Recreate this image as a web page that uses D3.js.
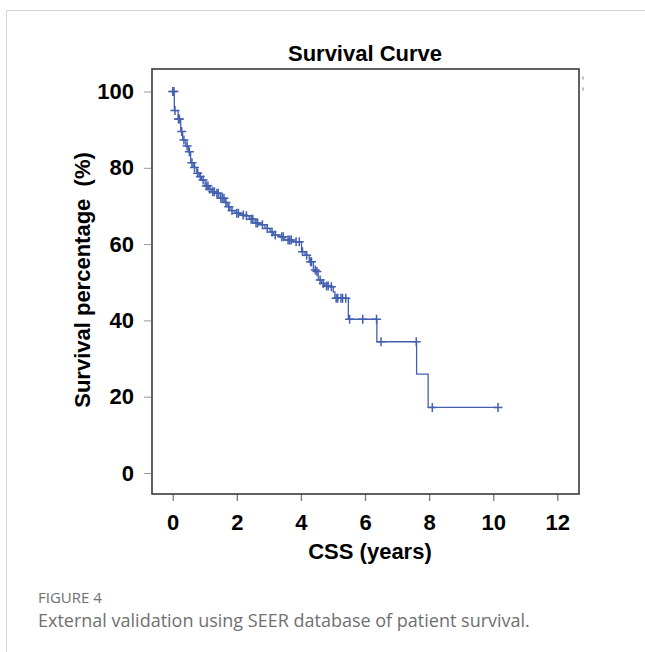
<!DOCTYPE html>
<html>
<head>
<meta charset="utf-8">
<script src="https://cdn.jsdelivr.net/npm/d3@7"></script>
<style>
  body { margin: 0; background: #fff; }
  svg { display: block; }
</style>
</head>
<body>
<div id="vis"></div>
<script>
// step events: time (years) at which survival drops to the given value (%)
var eventTimes = [0.05, 0.17, 0.25, 0.31, 0.41, 0.49, 0.56, 0.64, 0.75, 0.83, 0.90, 1.01, 1.11, 1.22, 1.35,
    1.48, 1.63, 1.70, 1.79, 1.94, 2.10, 2.26, 2.39, 2.57, 2.73, 2.88, 3.04, 3.14, 3.35, 3.50, 3.76,
    4.02, 4.13, 4.26, 4.39, 4.47, 4.54, 4.65, 4.75, 4.91, 5.01, 5.06, 5.48, 6.37, 7.61, 7.97];
var survival = [95.0, 92.8, 89.5, 87.3, 85.7, 84.2, 81.3, 80.1, 78.6, 77.7, 76.8, 75.2, 74.4, 73.7, 73.3,
    72.0, 70.9, 69.8, 68.8, 68.1, 67.6, 67.4, 66.5, 65.5, 65.1, 64.1, 63.2, 62.4, 61.9, 61.1, 60.6,
    58.0, 57.1, 55.4, 53.2, 52.8, 50.6, 49.7, 49.0, 48.8, 47.5, 45.8, 40.3, 34.4, 25.9, 17.2];
var lastTime = 10.18;
// censored observations
var censorTimes = [0, 0.04, 0.07, 0.18, 0.21, 0.28, 0.35, 0.45, 0.52, 0.6, 0.68, 0.78, 0.86, 0.95, 1.05,
    1.1, 1.16, 1.25, 1.3, 1.38, 1.42, 1.5, 1.55, 1.6, 1.66, 1.75, 1.85, 2.0, 2.05, 2.2, 2.3, 2.45, 2.5,
    2.6, 2.65, 2.8, 2.95, 3.1, 3.2, 3.4, 3.45, 3.6, 3.65, 3.7, 3.85, 3.95, 4.05, 4.18, 4.3, 4.33, 4.45,
    4.5, 4.6, 4.7, 4.8, 4.85, 4.95, 5.1, 5.15, 5.25, 5.3, 5.4, 5.52, 5.93, 6.36, 6.5, 7.6, 8.1, 10.15];
var xTicks = [0, 2, 4, 6, 8, 10, 12];
var yTicks = [0, 20, 40, 60, 80, 100];

var W = 645, H = 652;
var frame = { left: 152, top: 69, right: 579, bottom: 494 };
var lineColor = "#4360b0";

var x = d3.scaleLinear().domain([0, 12]).range([172.7, 557.3]);
var y = d3.scaleLinear().domain([0, 100]).range([473, 91.5]);

function survAt(t) {
    var s = 100;
    for (var i = 0; i < eventTimes.length; i++) {
        if (eventTimes[i] <= t) s = survival[i];
    }
    return s;
}

var svg = d3.select('#vis').append('svg')
    .attr("width", W)
    .attr("height", H);

// page border
svg.append("path")
    .attr("d", "M6.5," + H + "V10.5H" + W)
    .attr("fill", "none")
    .attr("stroke", "#d6d6d6")
    .attr("stroke-width", 1);

// title
svg.append("text")
    .attr("x", 365)
    .attr("y", 61)
    .attr("text-anchor", "middle")
    .style("font-family", "Liberation Sans, Arial, sans-serif")
    .style("font-weight", "bold")
    .style("font-size", "22px")
    .text("Survival Curve");

// axes
var xAxis = d3.axisBottom(x).tickValues(xTicks).tickSize(7).tickSizeOuter(0).tickPadding(13);
var yAxis = d3.axisLeft(y).tickValues(yTicks).tickSize(7).tickSizeOuter(0).tickPadding(10);

var gx = svg.append("g")
    .attr("transform", "translate(0," + frame.bottom + ")")
    .call(xAxis);
var gy = svg.append("g")
    .attr("transform", "translate(" + (frame.left - 1) + ",0)")
    .call(yAxis);

[gx, gy].forEach(function (g) {
    g.select(".domain").remove();
    g.selectAll(".tick line").attr("stroke", "#777").attr("stroke-width", 1.3);
    g.selectAll(".tick text")
        .attr("fill", "#000")
        .style("font-family", "Liberation Sans, Arial, sans-serif")
        .style("font-weight", "bold")
        .style("font-size", "22px");
});
gy.selectAll(".tick line").attr("stroke", "#999").attr("stroke-width", 1);

// frame
svg.append("rect")
    .attr("x", frame.left)
    .attr("y", frame.top)
    .attr("width", frame.right - frame.left)
    .attr("height", frame.bottom - frame.top)
    .attr("fill", "none")
    .attr("stroke", "#3a3a3a")
    .attr("stroke-width", 1.6);

// small legend remnants at right of frame
svg.selectAll(".rem").data([78, 89]).enter().append("rect")
    .attr("x", frame.right + 3)
    .attr("y", function (d) { return d - 1.5; })
    .attr("width", 2)
    .attr("height", 3)
    .attr("fill", "#b8bedc");

// axis titles
svg.append("text")
    .attr("x", 370)
    .attr("y", 559)
    .attr("text-anchor", "middle")
    .style("font-family", "Liberation Sans, Arial, sans-serif")
    .style("font-weight", "bold")
    .style("font-size", "22px")
    .text("CSS (years)");

svg.append("text")
    .attr("transform", "translate(90,280) rotate(-90)")
    .attr("text-anchor", "middle")
    .style("font-family", "Liberation Sans, Arial, sans-serif")
    .style("font-weight", "bold")
    .style("font-size", "22px")
    .style("white-space", "pre")
    .text("Survival percentage  (%)");

// KM step line
var pts = [[0, 100]];
eventTimes.forEach(function (t, i) { pts.push([t, survival[i]]); });
pts.push([lastTime, survival[survival.length - 1]]);
var line = d3.line()
    .x(function (d) { return x(d[0]); })
    .y(function (d) { return y(d[1]); })
    .curve(d3.curveStepAfter);

svg.append("path")
    .datum(pts)
    .attr("d", line)
    .attr("fill", "none")
    .attr("stroke", lineColor)
    .attr("stroke-width", 1.3);

// censor marks
var cg = svg.append("g")
    .attr("stroke", lineColor)
    .attr("stroke-width", 1.5);
cg.selectAll("path.cens").data(censorTimes).enter().append("path")
    .attr("class", "cens")
    .attr("d", function (t) {
        var cx = x(t), cy = y(survAt(t));
        return "M" + (cx - 4.5) + "," + cy + "H" + (cx + 4.5) + "M" + cx + "," + (cy - 4.5) + "V" + (cy + 4.5);
    });

// caption
svg.append("text")
    .attr("x", 38)
    .attr("y", 603)
    .attr("fill", "#707070")
    .style("font-family", "Open Sans, sans-serif")
    .style("font-size", "15px")
    .text("FIGURE 4");
svg.append("text")
    .attr("x", 38)
    .attr("y", 627)
    .attr("fill", "#707070")
    .style("font-family", "Open Sans, sans-serif")
    .style("font-size", "18px")
    .text("External validation using SEER database of patient survival.");
</script>
</body>
</html>
